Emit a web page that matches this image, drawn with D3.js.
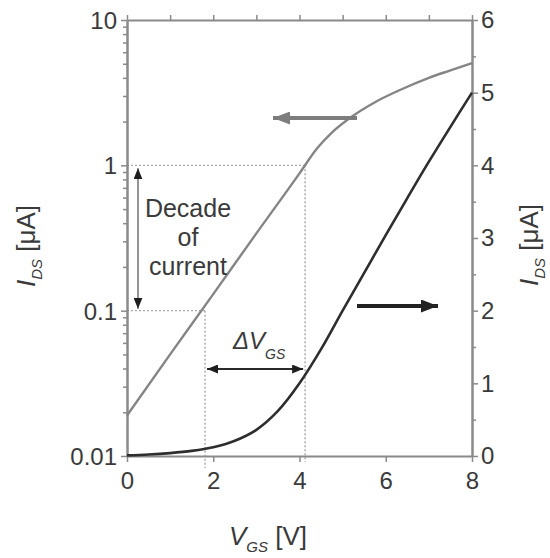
<!DOCTYPE html>
<html>
<head>
<meta charset="utf-8">
<script src="https://cdn.jsdelivr.net/npm/d3@7"></script>
<style>
  body { margin: 0; background: #fff; }
  svg { font-family: "Liberation Sans", Arial, sans-serif; }
</style>
</head>
<body>
<svg width="550" height="558"></svg>
<script>
// log-scale curve (left axis)
const vgsLog = [0, 1, 2, 3, 4, 4.4, 4.75, 5.2, 5.75, 6.33, 7, 7.5, 8]
const idsLog = [0.019, 0.05, 0.13, 0.34, 0.88, 1.3, 1.68, 2.15, 2.72, 3.3, 4.0, 4.5, 5.05]

// linear-scale curve (right axis)
const vgsLin = [0, 0.5, 1, 1.5, 2, 2.5, 3, 3.5, 4, 4.5, 5, 5.5, 6, 6.5, 7, 7.5, 8]
const idsLin = [0.008, 0.02, 0.04, 0.07, 0.12, 0.21, 0.36, 0.62, 1.0, 1.47, 2.0, 2.52, 3.04, 3.55, 4.05, 4.53, 5.0]

const xTicks = [0, 2, 4, 6, 8]
const xTicksTop = [0, 1, 2, 3, 4, 5, 6, 7, 8]
const logTicks = [0.01, 0.1, 1, 10]
const linTicks = [0, 1, 2, 3, 4, 5, 6]

// annotation anchors (data coords)
const decadeHi = 1, decadeLo = 0.1
const vAtHi = 4.13, vAtLo = 1.81

const svg = d3.select("svg"),
      mLeft = 127, mRight = 472, mTop = 20, mBottom = 456,
      grey = "#8a8a8a", dark = "#2e2e2e", txt = "#3a3a3a"

const x = d3.scaleLinear().domain([0, 8]).range([mLeft, mRight]),
      yLog = d3.scaleLog().domain([0.01, 10]).range([mBottom, mTop]),
      yLin = d3.scaleLinear().domain([0, 6]).range([mBottom, mTop])

const logData = vgsLog.map((v, i) => ({v: v, i: idsLog[i]})),
      linData = vgsLin.map((v, i) => ({v: v, i: idsLin[i]}))

// minor ticks for log axis
let minors = []
;[0.01, 0.1, 1].forEach(d => { for (let k = 2; k < 10; k++) minors.push(d * k) })

const defs = svg.append("defs")
function marker(id, w, h, col) {
  defs.append("marker")
      .attr("id", id)
      .attr("markerUnits", "userSpaceOnUse")
      .attr("viewBox", `0 0 ${w} ${h}`)
      .attr("refX", w).attr("refY", h / 2)
      .attr("markerWidth", w).attr("markerHeight", h)
      .attr("orient", "auto-start-reverse")
    .append("path")
      .attr("d", `M0,0L${w},${h/2}L0,${h}Z`)
      .attr("fill", col)
}
marker("hd", 11, 9, "#1e1e1e")
marker("hgrey", 17, 13, "#7d7d7d")
marker("hdark", 17, 13, "#222")

// dotted guide lines
const guides = svg.append("g")
  .attr("stroke", "#a8a8a8").attr("stroke-width", 1.4)
  .attr("stroke-dasharray", "2,2").attr("fill", "none")
guides.append("line").attr("x1", mLeft).attr("x2", x(vAtHi))
  .attr("y1", yLog(decadeHi)).attr("y2", yLog(decadeHi))
guides.append("line").attr("x1", x(vAtHi)).attr("x2", x(vAtHi))
  .attr("y1", yLog(decadeHi)).attr("y2", mBottom + 6)
guides.append("line").attr("x1", mLeft).attr("x2", x(vAtLo))
  .attr("y1", yLog(decadeLo)).attr("y2", yLog(decadeLo))
guides.append("line").attr("x1", x(vAtLo)).attr("x2", x(vAtLo))
  .attr("y1", yLog(decadeLo)).attr("y2", mBottom + 12)

// axes
function styleAxis(g) {
  g.selectAll("path.domain").attr("stroke", grey).attr("stroke-width", 2)
  g.selectAll(".tick line").attr("stroke", grey).attr("stroke-width", 1.5)
  g.selectAll(".tick text").attr("fill", txt)
    .style("font-size", "24px").style("font-family", "Liberation Sans, Arial, sans-serif")
}

svg.append("g").attr("transform", `translate(${mLeft},0)`)
  .call(d3.axisLeft(yLog).tickValues(minors).tickFormat("").tickSize(4).tickSizeOuter(0))
  .call(styleAxis)
svg.append("g").attr("transform", `translate(${mLeft},0)`)
  .call(d3.axisLeft(yLog).tickValues(logTicks).tickFormat(d3.format("~g")).tickSize(6).tickPadding(4).tickSizeOuter(0))
  .call(styleAxis)
  .call(g => g.selectAll(".tick text").attr("dy", "0.36em"))

svg.append("g").attr("transform", `translate(${mRight},0)`)
  .call(d3.axisRight(yLin).tickValues(d3.range(0.5, 6, 1)).tickFormat("").tickSize(4).tickSizeOuter(0))
  .call(styleAxis)
svg.append("g").attr("transform", `translate(${mRight},0)`)
  .call(d3.axisRight(yLin).tickValues(linTicks).tickFormat(d3.format("d")).tickSize(6).tickPadding(3).tickSizeOuter(0))
  .call(styleAxis)

svg.append("g").attr("transform", `translate(0,${mBottom})`)
  .call(d3.axisBottom(x).tickValues(xTicks).tickFormat(d3.format("d")).tickSize(6).tickPadding(10).tickSizeOuter(0))
  .call(styleAxis)
svg.append("g").attr("transform", `translate(0,${mTop})`)
  .call(d3.axisTop(x).tickValues(xTicksTop).tickFormat("").tickSize(5).tickSizeOuter(0))
  .call(styleAxis)

// curves
svg.append("path").datum(logData)
  .attr("fill", "none").attr("stroke", "#858585").attr("stroke-width", 2.4)
  .attr("d", d3.line().x(d => x(d.v)).y(d => yLog(d.i)).curve(d3.curveMonotoneX))
svg.append("path").datum(linData)
  .attr("fill", "none").attr("stroke", dark).attr("stroke-width", 2.6)
  .attr("d", d3.line().x(d => x(d.v)).y(d => yLin(d.i)).curve(d3.curveCatmullRom))

// decade arrow
svg.append("line")
  .attr("x1", 138).attr("x2", 138)
  .attr("y1", yLog(decadeHi) + 3).attr("y2", yLog(decadeLo) - 2)
  .attr("stroke", "#7a7a7a").attr("stroke-width", 1.6)
  .attr("marker-start", "url(#hd)").attr("marker-end", "url(#hd)")

svg.selectAll(".decade")
    .data(["Decade", "of", "current"])
  .enter().append("text")
    .attr("x", 188)
    .attr("y", (d, i) => 217 + i * 29)
    .attr("text-anchor", "middle")
    .attr("fill", txt)
    .style("font-size", "25px")
    .text(d => d)

// delta V arrow
svg.append("line")
  .attr("x1", x(vAtLo) + 2).attr("x2", x(vAtHi) - 2)
  .attr("y1", 369).attr("y2", 369)
  .attr("stroke", "#2a2a2a").attr("stroke-width", 1.8)
  .attr("marker-start", "url(#hd)").attr("marker-end", "url(#hd)")

const dv = svg.append("text").attr("x", 233).attr("y", 349).attr("fill", txt)
dv.append("tspan").style("font-size", "24px").style("font-style", "italic").text("ΔV")
dv.append("tspan").attr("dy", 10).style("font-size", "14px").style("font-style", "italic").text("GS")

// curve pointers
svg.append("line")
  .attr("x1", 357).attr("x2", 273).attr("y1", 118).attr("y2", 118)
  .attr("stroke", "#7d7d7d").attr("stroke-width", 4)
  .attr("marker-end", "url(#hgrey)")
svg.append("line")
  .attr("x1", 357).attr("x2", 438).attr("y1", 306).attr("y2", 306)
  .attr("stroke", "#222").attr("stroke-width", 4)
  .attr("marker-end", "url(#hdark)")

// axis titles
function title(sel, main, sub, unit) {
  sel.attr("fill", txt).attr("text-anchor", "middle").style("font-size", "26px")
  sel.append("tspan").style("font-style", "italic").text(main)
  sel.append("tspan").attr("dy", 7).style("font-size", "15px").style("font-style", "italic").text(sub)
  sel.append("tspan").attr("dy", -7).text(" " + unit)
}
title(svg.append("text").attr("transform", "translate(35,246) rotate(-90)"), "I", "DS", "[μA]")
title(svg.append("text").attr("transform", "translate(538,245) rotate(-90)"), "I", "DS", "[μA]")
title(svg.append("text").attr("x", 268).attr("y", 545), "V", "GS", "[V]")
</script>
</body>
</html>
